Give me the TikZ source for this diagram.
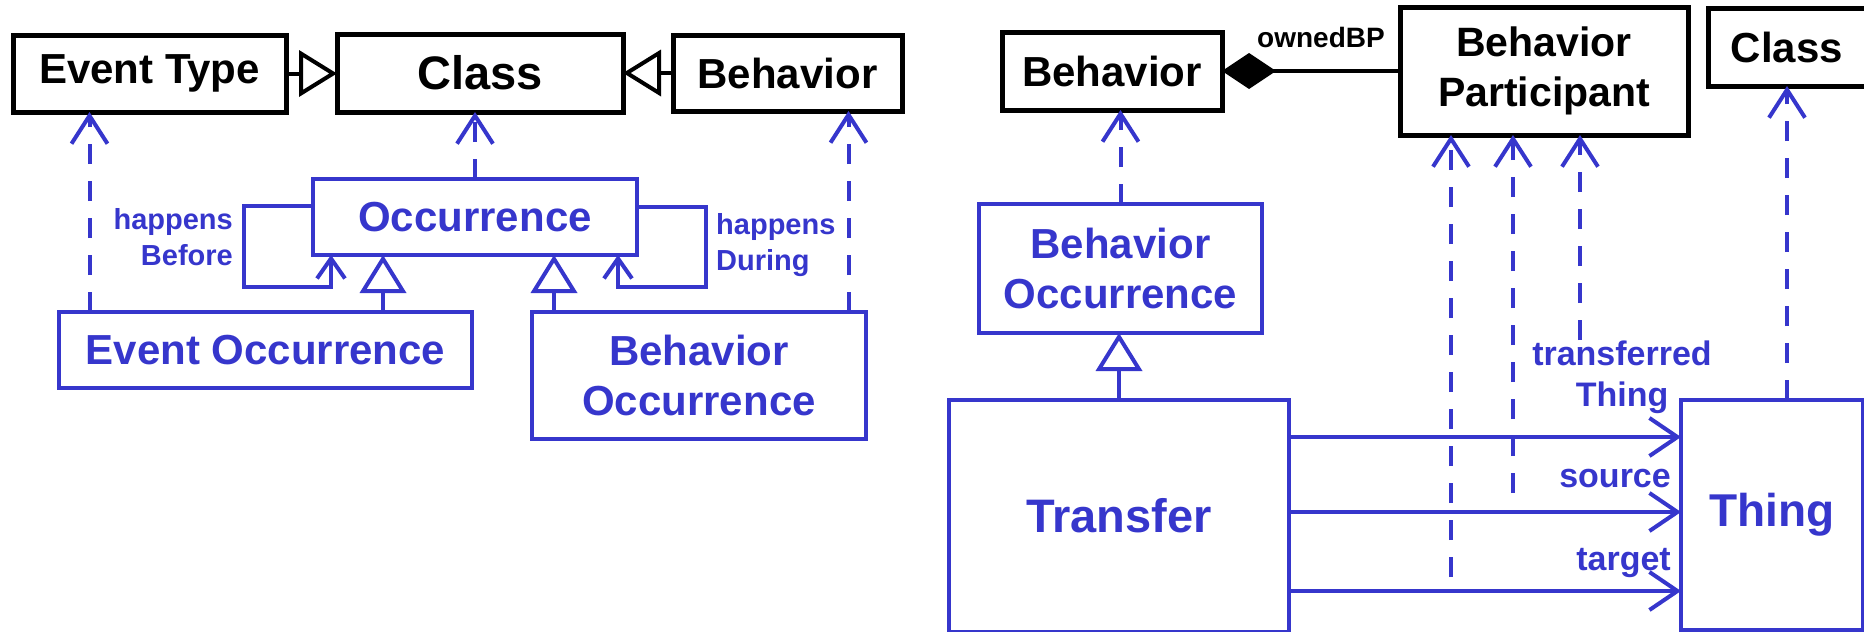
\documentclass[tikz,border=0pt]{standalone}
\usepackage{fontspec}
\setmainfont{Liberation Sans}
\usetikzlibrary{arrows.meta}

\definecolor{umlblue}{RGB}{54,54,204}

\tikzset{
    classbox/.style={rectangle, draw, inner sep=0pt, outer sep=0pt, align=center,
        font=\fontsize{42}{50}\selectfont\bfseries},
    blackbox/.style={classbox, draw=black, text=black, line width=5pt},
    bluebox/.style={classbox, draw=umlblue, text=umlblue, line width=4.5pt},
    gen/.style={line width=4pt, -{Triangle[open, length=38pt, width=46pt]}},
    dep/.style={umlblue, line width=4pt, dash pattern=on 20pt off 17pt,
        -{Straight Barb[length=28pt, width=36pt]}},
    assoc/.style={umlblue, line width=4pt, -{Straight Barb[length=28pt, width=38pt]}},
    selfassoc/.style={umlblue, line width=4pt, -{Straight Barb[length=20pt, width=28pt]}},
    lbl/.style={umlblue, inner sep=0pt, font=\fontsize{29}{36}\selectfont\bfseries},
    endlbl/.style={umlblue, inner sep=0pt, font=\fontsize{34}{41}\selectfont\bfseries},
}

\begin{document}
\begin{tikzpicture}[x=1pt, y=-1pt]
    \useasboundingbox (0,0) rectangle (1864,632);
    \clip (0,0) rectangle (1864,632);

    % occurrences
    \node[blackbox, minimum width=273pt, minimum height=77pt] (evtype) at (149.5,73.5) {Event Type};
    \node[blackbox, minimum width=286pt, minimum height=78pt, font=\fontsize{47}{56}\selectfont\bfseries] (clsL) at (480,73) {Class};
    \node[blackbox, minimum width=229pt, minimum height=76pt] (behL) at (787.5,73) {Behavior};

    \node[bluebox, minimum width=324pt, minimum height=76pt] (occ) at (475,217) {Occurrence};
    \node[bluebox, minimum width=413pt, minimum height=76pt] (evocc) at (265.5,350) {Event Occurrence};
    \node[bluebox, minimum width=334pt, minimum height=127pt] (bhocc) at (699,375.5) {Behavior\\Occurrence};

    \draw[gen] (evtype.east) -- (evtype.east -| clsL.west);
    \draw[gen] (behL.west) -- (behL.west -| clsL.east);
    \draw[dep] (occ.north) -- (occ.north |- clsL.south);

    \coordinate (evoccGen) at ([xshift=-92pt]occ.south);
    \coordinate (bhoccGen) at ([xshift=79pt]occ.south);
    \draw[gen, umlblue] (evocc.north -| evoccGen) -- (evoccGen);
    \draw[gen, umlblue] (bhocc.north -| bhoccGen) -- (bhoccGen);

    \coordinate (evtypeDep) at ([xshift=-60pt]evtype.south);
    \coordinate (behLDep) at ([xshift=61pt]behL.south);
    \draw[dep] (evocc.north -| evtypeDep) -- (evtypeDep);
    \draw[dep] (bhocc.north -| behLDep) -- (behLDep);

    % happensBefore / happensDuring
    \coordinate (befEnd) at ([xshift=-144pt]occ.south);
    \coordinate (durEnd) at ([xshift=143pt]occ.south);
    \draw[selfassoc] ([yshift=11pt]occ.west) -- ++(-69,0) -- ++(0,81) -| (befEnd);
    \draw[selfassoc] ([yshift=10pt]occ.east) -- ++(69,0) -- ++(0,80) -| (durEnd);
    \node[lbl, anchor=east, align=right] (befLbl) at (233,237) {happens\\Before};
    \node[lbl, anchor=west, align=left] (durLbl) at (716,245) {happens\\During};

    % transfers
    \node[blackbox, minimum width=220pt, minimum height=78pt] (behR) at (1112,71) {Behavior};
    \node[blackbox, minimum width=288pt, minimum height=128pt, font=\fontsize{41}{50}\selectfont\bfseries] (bpart) at (1544,71) {Behavior\\Participant};
    \node[blackbox, minimum width=158pt, minimum height=78pt] (clsR) at (1787,47) {Class};

    \node[bluebox, minimum width=283pt, minimum height=129pt] (bhoccR) at (1120.5,268.5) {Behavior\\Occurrence};
    \node[bluebox, minimum width=340pt, minimum height=232pt, font=\fontsize{47}{56}\selectfont\bfseries] (transfer) at (1119,516) {Transfer};
    \node[bluebox, minimum width=182pt, minimum height=230pt, font=\fontsize{46}{55}\selectfont\bfseries] (thing) at (1772,515) {Thing};

    \draw[line width=4pt, -{Diamond[length=54pt, width=36pt]}] (bpart.west) -- (behR.east);
    \node[inner sep=0pt, font=\fontsize{28}{34}\selectfont\bfseries] (ownLbl) at (1321,37) {ownedBP};

    \draw[dep] (bhoccR.north) -- (bhoccR.north |- behR.south);
    \draw[gen, umlblue] (transfer.north) -- (transfer.north |- bhoccR.south);
    \draw[dep] (clsR.south |- thing.north) -- (clsR.south);

    \coordinate (trTop) at ([yshift=79pt]transfer.east);
    \coordinate (trMid) at ([yshift=4pt]transfer.east);
    \coordinate (trBot) at ([yshift=-75pt]transfer.east);
    \draw[assoc] (trTop) -- (trTop -| thing.west);
    \draw[assoc] (trMid) -- (trMid -| thing.west);
    \draw[assoc] (trBot) -- (trBot -| thing.west);
    \node[endlbl, align=center] (thingLbl) at (1622,377) {transferred\\Thing};
    \node[endlbl, anchor=east] (srcLbl) at (1671,479) {source};
    \node[endlbl, anchor=east] (tgtLbl) at (1671,563) {target};

    % participant properties
    \coordinate (tgtEnd) at (1451,577);
    \coordinate (srcEnd) at (1513,493);
    \coordinate (thingEnd) at (1580,340);
    \draw[dep] (tgtEnd) -- (tgtEnd |- bpart.south);
    \draw[dep] (srcEnd) -- (srcEnd |- bpart.south);
    \draw[dep] (thingEnd) -- (thingEnd |- bpart.south);

\end{tikzpicture}
\end{document}
